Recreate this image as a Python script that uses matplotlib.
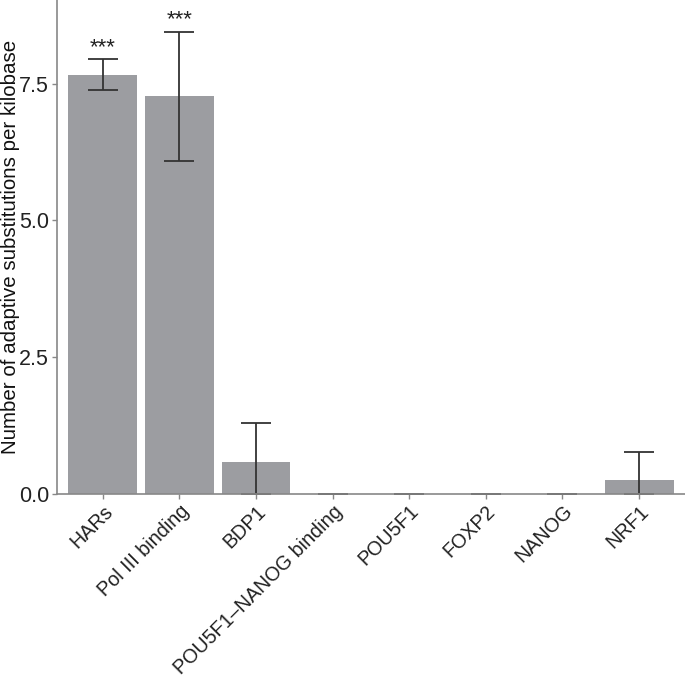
import matplotlib.pyplot as plt
import numpy as np

plt.rcParams['font.family'] = ['Liberation Sans', 'DejaVu Sans']

categories = ["HARs", "Pol III binding", "BDP1", "POU5F1\u2013NANOG binding",
              "POU5F1", "FOXP2", "NANOG", "NRF1"]
values = [7.66, 7.27, 0.585, 0.0, 0.0, 0.0, 0.0, 0.25]
err_low = [7.38, 6.09, 0.0, 0.0, 0.0, 0.0, 0.0, 0.0]
err_high = [7.95, 8.45, 1.30, 0.0, 0.0, 0.0, 0.0, 0.77]
stars = ["***", "***", "", "", "", "", "", ""]

fig = plt.figure(figsize=(6.85, 6.80), dpi=100)
ax = fig.add_axes([0.083, 0.2735, 0.917, 0.7265])

x = np.arange(len(categories))
ax.bar(x, values, width=0.9, color="#9c9da1", zorder=1)
lo = np.array(values) - np.array(err_low)
hi = np.array(err_high) - np.array(values)
ax.errorbar(x, values, yerr=[lo, hi], fmt="none", ecolor="#333333",
            elinewidth=1.3, capsize=10.8, capthick=1.3, zorder=2)

for xi, s, top in zip(x, stars, err_high):
    if s:
        ax.annotate(s, (xi, top), xytext=(0, 1), textcoords="offset points",
                    ha="center", va="bottom", fontsize=16, color="#222222")

ax.set_xlim(-0.6, 7.6)
ax.set_ylim(0, 9.03)
ax.set_yticks([0, 2.5, 5.0, 7.5])
ax.set_yticklabels(["0.0", "2.5", "5.0", "7.5"])
ax.set_xticks(x)
ax.set_xticklabels(categories, rotation=45, ha="right", rotation_mode="anchor")
ax.tick_params(axis="y", labelsize=15.5)
ax.tick_params(axis="x", labelsize=14.2)
ax.tick_params(axis="both", colors="#888888", labelcolor="#222222",
               length=3.5, width=1, pad=2)
ax.set_ylabel("Number of adaptive substitutions per kilobase", fontsize=14.8,
              color="#111111")
ax.yaxis.set_label_coords(-0.059, 0.5)

for side in ["top", "right"]:
    ax.spines[side].set_visible(False)
for side in ["left", "bottom"]:
    ax.spines[side].set_color("#888888")
    ax.spines[side].set_linewidth(1.2)

fig.savefig("out.png", dpi=100)
